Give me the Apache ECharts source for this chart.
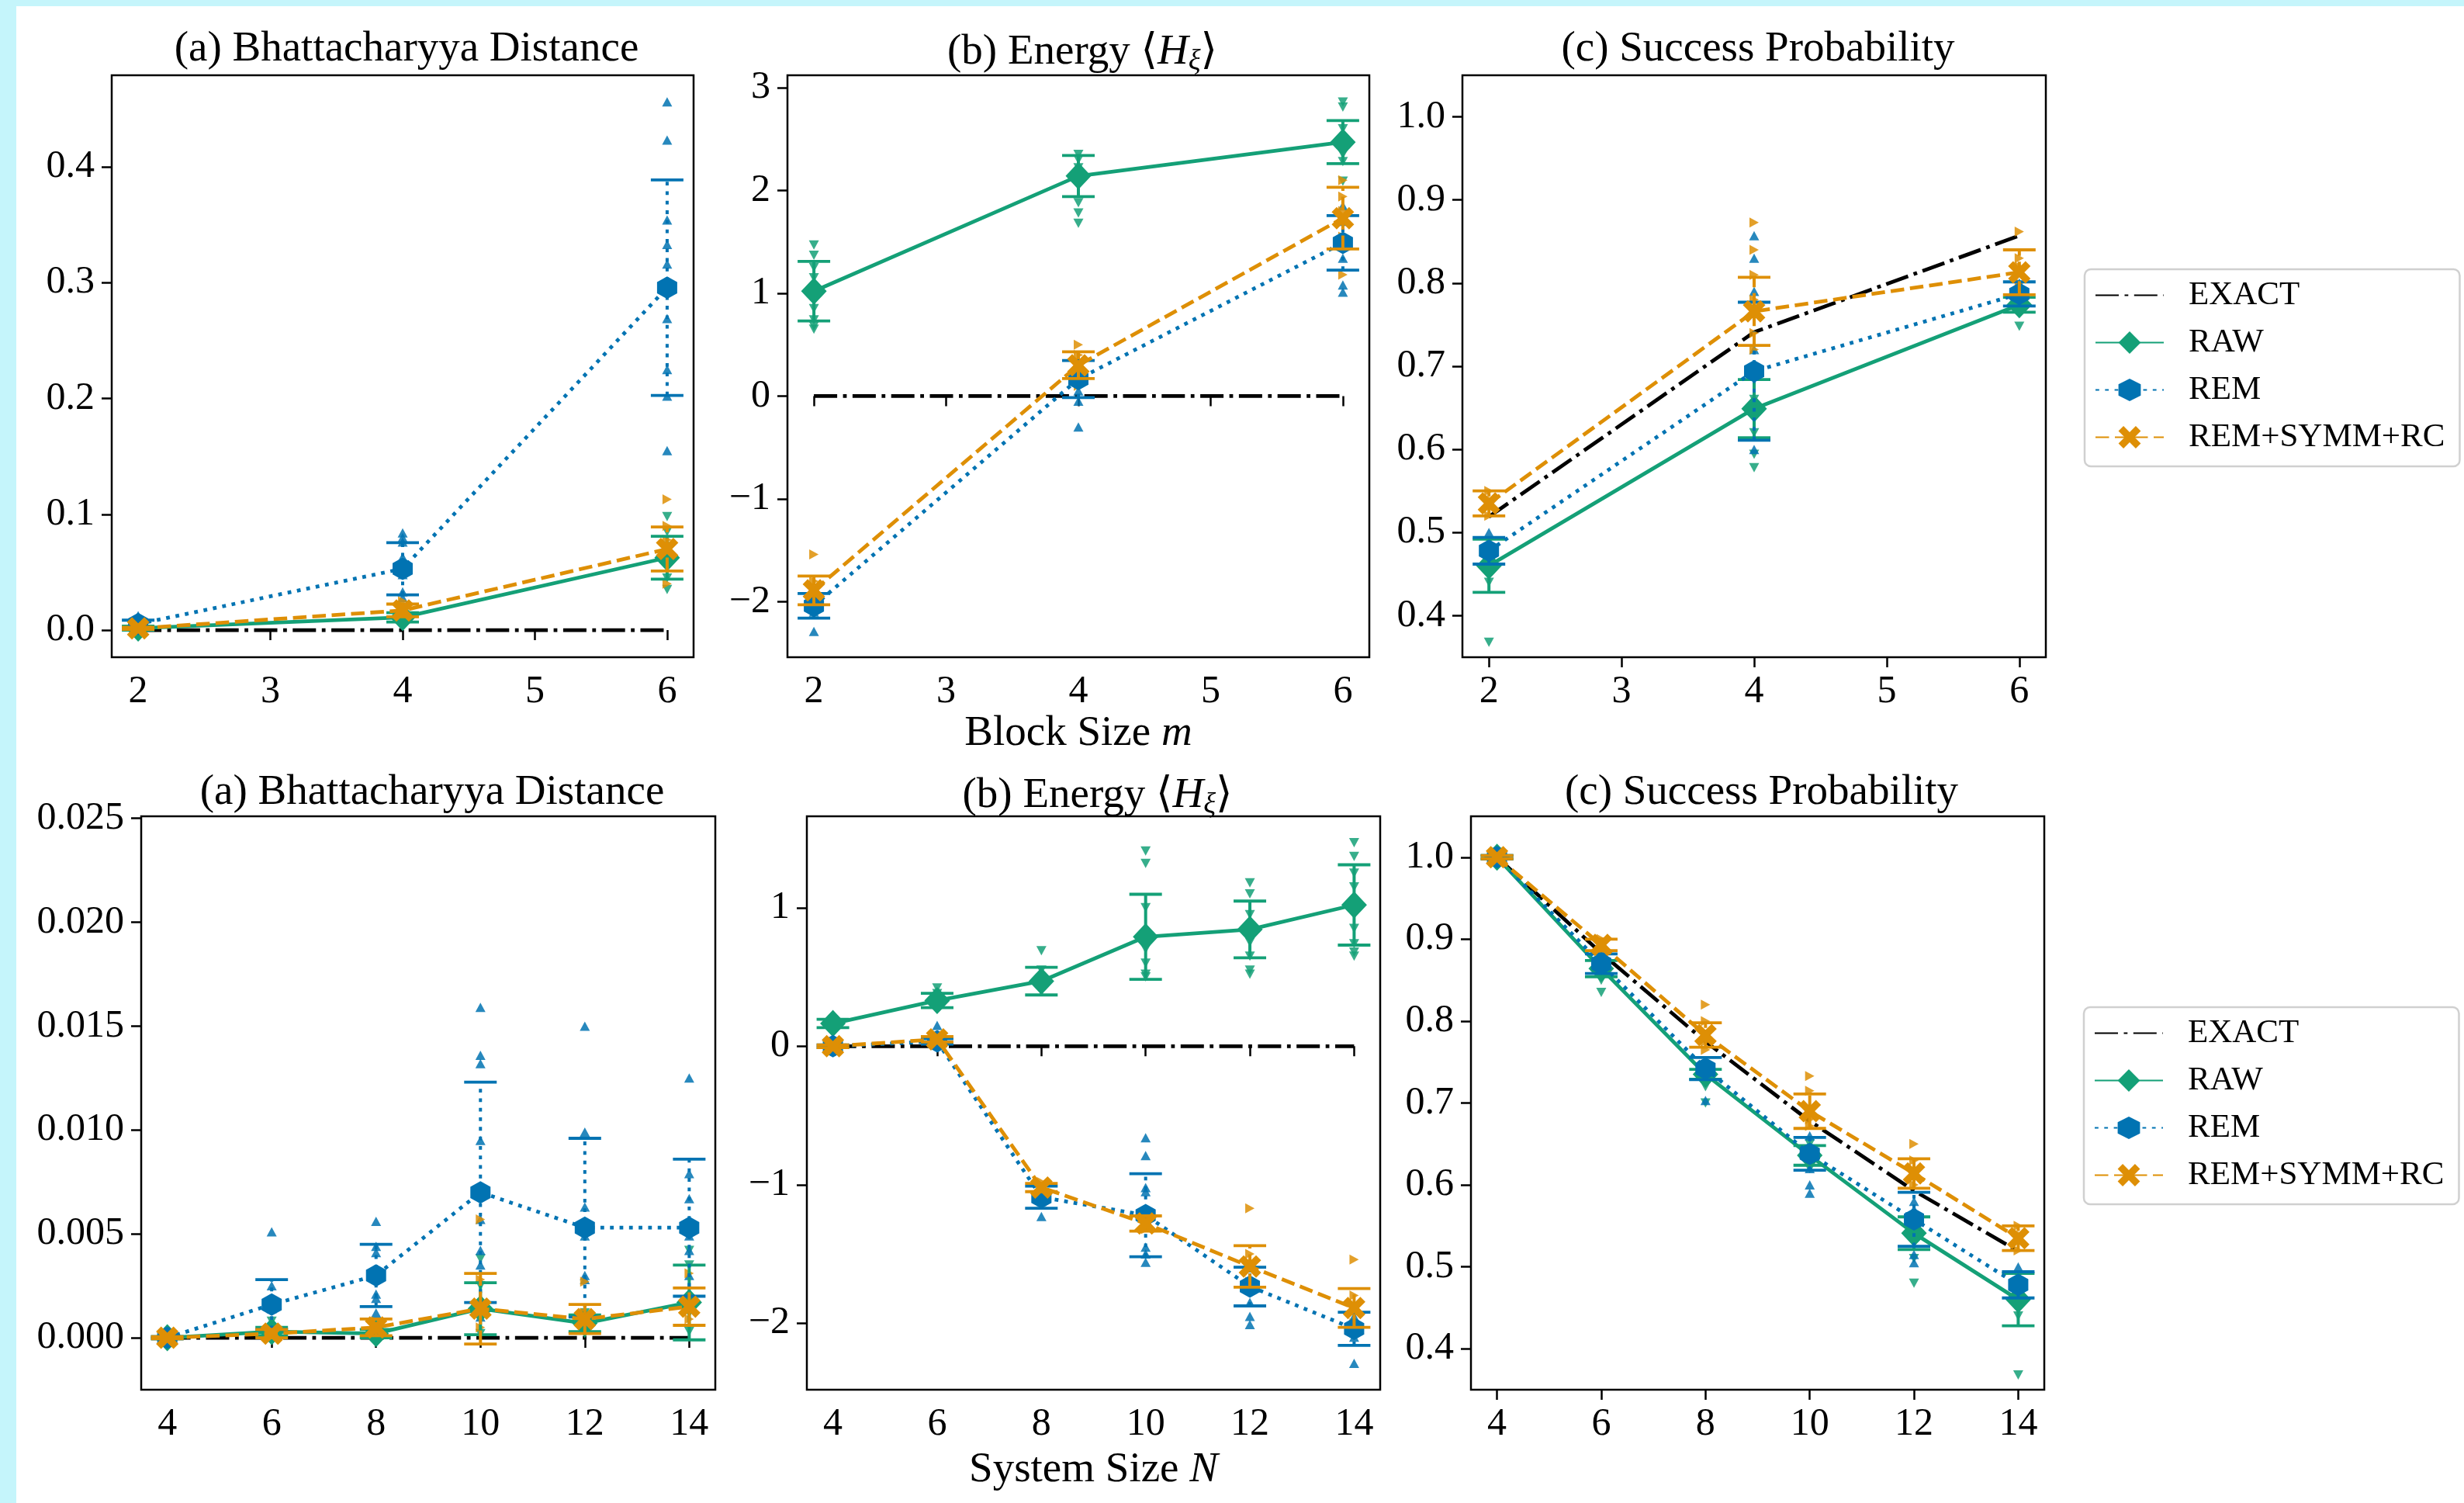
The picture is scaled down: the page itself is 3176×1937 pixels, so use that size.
<!DOCTYPE html>
<html><head><meta charset="utf-8">
<script src="https://cdn.jsdelivr.net/npm/echarts@6/dist/echarts.min.js"></script>
<style>html,body{margin:0;padding:0;background:#fff}#c{width:3176px;height:1937px}</style>
</head><body><div id="c"></div>
<script>
// ---------------- x values & tick labels ----------------
const blockSizes = [2, 4, 6];
const systemSizes = [4, 6, 8, 10, 12, 14];
const blockTicks = [2, 3, 4, 5, 6];
const systemTicks = [4, 6, 8, 10, 12, 14];
const bdTicksM = [0, 0.1, 0.2, 0.3, 0.4];
const enTicksM = [-2, -1, 0, 1, 2, 3];
const spTicksM = [0.4, 0.5, 0.6, 0.7, 0.8, 0.9, 1.0];
const bdTicksN = [0, 0.005, 0.01, 0.015, 0.02, 0.025];
const enTicksN = [-2, -1, 0, 1];
const spTicksN = [0.4, 0.5, 0.6, 0.7, 0.8, 0.9, 1.0];
const legendNames = ['EXACT', 'RAW', 'REM', 'REM+SYMM+RC'];

// ---------------- top row: vs block size m ----------------
// (a) Bhattacharyya distance
const bdExactM = [0, 0, 0];
const bdRawM = [0.0017, 0.011, 0.0625];
const bdRawErrM = [0.0018, 0.004, 0.0185];
const bdRemM = [0.0053, 0.053, 0.2956];
const bdRemErrM = [0.0033, 0.0225, 0.093];
const bdRsrM = [0.0015, 0.017, 0.070];
const bdRsrErrM = [0.0009, 0.0055, 0.019];
const bdRawSampM = [[0.0042, 0.0003], [0.005, 0.009, 0.014, 0.017], [0.098, 0.085, 0.072, 0.055, 0.045, 0.035]];
const bdRemSampM = [[0.0125, 0.0079, 0.0067, 0.0042], [0.084, 0.080, 0.076, 0.063, 0.058, 0.048, 0.033, 0.028], [0.456, 0.423, 0.354, 0.333, 0.316, 0.269, 0.225, 0.202, 0.155]];
const bdRsrSampM = [[0.0031, 0.0009], [0.010, 0.021, 0.025], [0.113, 0.090, 0.078, 0.060, 0.040]];
// (b) Energy
const enExactM = [0, 0, 0];
const enRawM = [1.02, 2.14, 2.47];
const enRawErrM = [0.29, 0.20, 0.21];
const enRemM = [-2.04, 0.166, 1.49];
const enRemErrM = [0.12, 0.18, 0.265];
const enRsrM = [-1.89, 0.30, 1.73];
const enRsrErrM = [0.14, 0.13, 0.30];
const enRawSampM = [[1.47, 1.37, 1.25, 1.15, 0.85, 0.74, 0.68, 0.65], [2.35, 2.30, 2.22, 2.05, 1.88, 1.78, 1.68], [2.86, 2.81, 2.60, 2.35, 2.28, 2.09]];
const enRemSampM = [[-1.95, -2.1, -2.29], [0.35, 0.25, 0.05, -0.05, -0.30], [1.85, 1.70, 1.34, 1.08, 1.01]];
const enRsrSampM = [[-1.54, -1.8, -2.0], [0.50, 0.40, 0.20, 0.10], [2.10, 1.94, 1.80, 1.55, 1.18]];
// (c) Success probability
const spExactM = [0.519, 0.741, 0.857];
const spRawM = [0.460, 0.649, 0.774];
const spRawErrM = [0.032, 0.035, 0.009];
const spRemM = [0.478, 0.694, 0.787];
const spRemErrM = [0.016, 0.083, 0.0145];
const spRsrM = [0.535, 0.766, 0.813];
const spRsrErrM = [0.015, 0.041, 0.027];
const spRawSampM = [[0.368, 0.44, 0.47, 0.49], [0.578, 0.594, 0.62, 0.66, 0.69], [0.748, 0.77, 0.78]];
const spRemSampM = [[0.46, 0.48, 0.50], [0.857, 0.83, 0.79, 0.72, 0.66, 0.60], [0.77, 0.79, 0.80]];
const spRsrSampM = [[0.52, 0.54, 0.55], [0.873, 0.84, 0.81, 0.78, 0.74, 0.72], [0.862, 0.83, 0.82, 0.80]];

// ---------------- bottom row: vs system size N ----------------
// (a) Bhattacharyya distance
const bdExactN = [0, 0, 0, 0, 0, 0];
const bdRawN = [0, 0.0003, 0.0002, 0.0014, 0.0007, 0.0017];
const bdRawErrN = [0.00005, 0.0002, 0.0002, 0.00125, 0.0004, 0.0018];
const bdRemN = [0, 0.0016, 0.0030, 0.0070, 0.0053, 0.0053];
const bdRemErrN = [0.00005, 0.0012, 0.0015, 0.0053, 0.0043, 0.0033];
const bdRsrN = [0, 0.0002, 0.0005, 0.0014, 0.0009, 0.0015];
const bdRsrErrN = [0.00005, 0.0002, 0.0004, 0.0017, 0.0007, 0.0009];
const bdRawSampN = [[0.0001], [0.0008, 0.0002], [0.0002, 0.0006], [0.0038, 0.0025, 0.0010, 0.0002], [0.0005, 0.0012, 0.0002], [0.0042, 0.0035, 0.0012, 0.0003]];
const bdRemSampN = [[0.0001], [0.0051, 0.0025, 0.0014, 0.0005], [0.0056, 0.0044, 0.0041, 0.0021, 0.0019, 0.0012], [0.0159, 0.0136, 0.0132, 0.0095, 0.0057, 0.0042, 0.0035, 0.0010], [0.0150, 0.0099, 0.0063, 0.0049, 0.0030, 0.0028, 0.0010], [0.0125, 0.0079, 0.0067, 0.0049, 0.0042, 0.0030]];
const bdRsrSampN = [[0.0001], [0.0003], [0.0008, 0.0003], [0.0057, 0.0028, 0.0005], [0.0027, 0.0012, 0.0004], [0.0031, 0.0018, 0.0009]];
// (b) Energy
const enExactN = [0, 0, 0, 0, 0, 0];
const enRawN = [0.164, 0.33, 0.47, 0.79, 0.843, 1.02];
const enRawErrN = [0.03, 0.052, 0.10, 0.307, 0.205, 0.29];
const enRemN = [0.0, 0.035, -1.09, -1.22, -1.735, -2.04];
const enRemErrN = [0.01, 0.02, 0.08, 0.30, 0.14, 0.12];
const enRsrN = [0.0, 0.05, -1.02, -1.28, -1.59, -1.89];
const enRsrErrN = [0.01, 0.02, 0.03, 0.055, 0.15, 0.14];
const enRawSampN = [[0.19, 0.15], [0.42, 0.38, 0.30], [0.69, 0.55, 0.40], [1.41, 1.32, 1.0, 0.7, 0.6, 0.52, 0.5], [1.18, 1.1, 0.95, 0.75, 0.65, 0.55, 0.52], [1.47, 1.37, 1.25, 1.15, 0.85, 0.74, 0.68, 0.65]];
const enRemSampN = [[0.01], [0.15, 0.05], [-1.05, -1.12, -1.23], [-0.66, -0.79, -1.02, -1.05, -1.45, -1.5, -1.56], [-1.6, -1.85, -1.95, -2.01], [-1.95, -2.1, -2.29]];
const enRsrSampN = [[0.01], [0.06], [-0.98, -1.04], [-1.20, -1.32], [-1.17, -1.5, -1.7], [-1.54, -1.8, -2.0]];
// (c) Success probability
const spExactN = [1.0, 0.883, 0.775, 0.678, 0.593, 0.519];
const spRawN = [1.0, 0.864, 0.735, 0.636, 0.541, 0.460];
const spRawErrN = [0.002, 0.01, 0.006, 0.012, 0.02, 0.032];
const spRemN = [1.0, 0.870, 0.742, 0.638, 0.558, 0.478];
const spRemErrN = [0.002, 0.012, 0.0135, 0.02, 0.033, 0.016];
const spRsrN = [1.0, 0.893, 0.783, 0.690, 0.614, 0.535];
const spRsrErrN = [0.002, 0.007, 0.015, 0.021, 0.018, 0.015];
const spRawSampN = [[1.006, 0.994], [0.835, 0.85, 0.875], [0.70, 0.72, 0.745], [0.62, 0.65], [0.48, 0.51, 0.55], [0.368, 0.44, 0.47, 0.49]];
const spRemSampN = [[1.005], [0.86, 0.88], [0.703, 0.73, 0.75], [0.59, 0.60, 0.62, 0.66], [0.505, 0.515, 0.57, 0.58], [0.46, 0.48, 0.50]];
const spRsrSampN = [[1.0], [0.9, 0.885], [0.82, 0.80, 0.775, 0.765], [0.733, 0.715, 0.68, 0.672], [0.65, 0.63, 0.60], [0.52, 0.54, 0.55]];

// ---------------- styling ----------------
const FONT = "'Liberation Serif', 'DejaVu Serif', serif";
const C_EXACT = '#000000', C_RAW = '#14a077', C_REM = '#0173b2', C_RSR = '#de8f05';
const LW = 4.8;
const DASH_EXACT = [30, 7.5, 4.8, 7.5];
const DASH_REM = [4.8, 7.5];
const DASH_RSR = [17.5, 7.5];
const SYM_HEX = 'path://M0,-1L0.866,-0.5L0.866,0.5L0,1L-0.866,0.5L-0.866,-0.5Z';
const SYM_X = 'path://M-1,-0.55L-0.55,-1L0,-0.45L0.55,-1L1,-0.55L0.45,0L1,0.55L0.55,1L0,0.45L-0.55,1L-1,0.55L-0.45,0Z';

const grids = [
  {left: 144, top: 97, width: 750, height: 750},
  {left: 1015, top: 97, width: 750, height: 750},
  {left: 1885, top: 97, width: 752, height: 750},
  {left: 182, top: 1052, width: 740, height: 739},
  {left: 1040, top: 1052, width: 739, height: 739},
  {left: 1896, top: 1052, width: 739, height: 739}
];

function fmt(d) { return v => (v < -1e-12 ? '\u2212' : '') + Math.abs(v).toFixed(d); }

const panels = [
  {xs: blockSizes, xmin: 1.8, xmax: 6.2, xt: blockTicks, ymin: -0.0234, ymax: 0.479, yt: bdTicksM, yd: 1,
   ex: bdExactM, raw: bdRawM, rawE: bdRawErrM, rawS: bdRawSampM, rem: bdRemM, remE: bdRemErrM, remS: bdRemSampM, rsr: bdRsrM, rsrE: bdRsrErrM, rsrS: bdRsrSampM,
   title: '(a) Bhattacharyya Distance'},
  {xs: blockSizes, xmin: 1.8, xmax: 6.2, xt: blockTicks, ymin: -2.54, ymax: 3.12, yt: enTicksM, yd: 0,
   ex: enExactM, raw: enRawM, rawE: enRawErrM, rawS: enRawSampM, rem: enRemM, remE: enRemErrM, remS: enRemSampM, rsr: enRsrM, rsrE: enRsrErrM, rsrS: enRsrSampM,
   title: '(b) Energy \u27E8{i|H}{s|\u03BE}\u27E9', xname: 'Block Size {i|m}', nameGap: 70},
  {xs: blockSizes, xmin: 1.8, xmax: 6.2, xt: blockTicks, ymin: 0.35, ymax: 1.05, yt: spTicksM, yd: 1,
   ex: spExactM, raw: spRawM, rawE: spRawErrM, rawS: spRawSampM, rem: spRemM, remE: spRemErrM, remS: spRemSampM, rsr: spRsrM, rsrE: spRsrErrM, rsrS: spRsrSampM,
   title: '(c) Success Probability'},
  {xs: systemSizes, xmin: 3.5, xmax: 14.5, xt: systemTicks, ymin: -0.0025, ymax: 0.0251, yt: bdTicksN, yd: 3,
   ex: bdExactN, raw: bdRawN, rawE: bdRawErrN, rawS: bdRawSampN, rem: bdRemN, remE: bdRemErrN, remS: bdRemSampN, rsr: bdRsrN, rsrE: bdRsrErrN, rsrS: bdRsrSampN,
   title: '(a) Bhattacharyya Distance'},
  {xs: systemSizes, xmin: 3.5, xmax: 14.5, xt: systemTicks, ymin: -2.48, ymax: 1.66, yt: enTicksN, yd: 0,
   ex: enExactN, raw: enRawN, rawE: enRawErrN, rawS: enRawSampN, rem: enRemN, remE: enRemErrN, remS: enRemSampN, rsr: enRsrN, rsrE: enRsrErrN, rsrS: enRsrSampN,
   title: '(b) Energy \u27E8{i|H}{s|\u03BE}\u27E9', xname: 'System Size {i|N}', nameGap: 76},
  {xs: systemSizes, xmin: 3.5, xmax: 14.5, xt: systemTicks, ymin: 0.35, ymax: 1.05, yt: spTicksN, yd: 1,
   ex: spExactN, raw: spRawN, rawE: spRawErrN, rawS: spRawSampN, rem: spRemN, remE: spRemErrN, remS: spRemSampN, rsr: spRsrN, rsrE: spRsrErrN, rsrS: spRsrSampN,
   title: '(c) Success Probability'}
];

const richTitle = {
  i: {fontFamily: FONT, fontSize: 55, fontStyle: 'italic', color: '#000'},
  s: {fontFamily: FONT, fontSize: 37, fontStyle: 'italic', color: '#000', padding: [26, 0, 0, 0]}
};

const xAxes = [], yAxes = [], titles = [], series = [];

function pairs(xs, ys) { return xs.map((x, i) => [x, ys[i]]); }
function flat(xs, samp) { const out = []; xs.forEach((x, i) => samp[i].forEach(v => out.push([x, v]))); return out; }

function errSeries(gi, xs, ys, es, color, dash, z) {
  return {
    type: 'custom', name: 'err' + gi + color, xAxisIndex: gi, yAxisIndex: gi, z: z, silent: true,
    data: xs.map((x, i) => [x, ys[i] - es[i], ys[i] + es[i]]),
    renderItem: function (params, api) {
      const lo = api.coord([api.value(0), api.value(1)]);
      const hi = api.coord([api.value(0), api.value(2)]);
      const cw = 21;
      return {type: 'group', children: [
        {type: 'line', shape: {x1: lo[0], y1: lo[1], x2: hi[0], y2: hi[1]}, style: {stroke: color, lineWidth: 4, lineDash: dash}},
        {type: 'line', shape: {x1: lo[0] - cw, y1: lo[1], x2: lo[0] + cw, y2: lo[1]}, style: {stroke: color, lineWidth: 3.8}},
        {type: 'line', shape: {x1: hi[0] - cw, y1: hi[1], x2: hi[0] + cw, y2: hi[1]}, style: {stroke: color, lineWidth: 3.8}}
      ]};
    }
  };
}
function sampSeries(gi, xs, samp, color, rot, z) {
  return {type: 'scatter', name: 'samp' + gi + color, xAxisIndex: gi, yAxisIndex: gi, z: z, silent: true,
    data: flat(xs, samp), symbol: 'triangle', symbolRotate: rot, symbolSize: [13, 12],
    itemStyle: {color: color, opacity: 0.85}};
}
function lineSeries(gi, name, xs, ys, color, dash, sym, size, z) {
  return {type: 'line', name: name, xAxisIndex: gi, yAxisIndex: gi, z: z, silent: true,
    data: pairs(xs, ys), symbol: sym, symbolSize: size, showSymbol: sym !== 'none',
    lineStyle: {color: color, width: LW, type: dash, cap: 'butt'}, itemStyle: {color: color},
    emphasis: {disabled: true}};
}

panels.forEach((p, gi) => {
  const g = grids[gi];
  xAxes.push({
    type: 'value', gridIndex: gi, min: p.xmin, max: p.xmax,
    axisLine: {show: false}, splitLine: {show: false},
    axisTick: {show: true, customValues: p.xt, length: 13, lineStyle: {color: '#000', width: 2.5}},
    axisLabel: {customValues: p.xt, fontFamily: FONT, fontSize: 50, color: '#000', margin: 20, formatter: fmt(0)},
    name: p.xname || '', nameLocation: 'middle', nameGap: p.nameGap || 0,
    nameTextStyle: {fontFamily: FONT, fontSize: 55, color: '#000',
      rich: {i: {fontFamily: FONT, fontSize: 55, fontStyle: 'italic', color: '#000'}}}
  });
  yAxes.push({
    type: 'value', gridIndex: gi, min: p.ymin, max: p.ymax,
    axisLine: {show: false}, splitLine: {show: false},
    axisTick: {show: true, customValues: p.yt, length: 13, lineStyle: {color: '#000', width: 2.5}},
    axisLabel: {customValues: p.yt, fontFamily: FONT, fontSize: 50, color: '#000', margin: 22, formatter: fmt(p.yd)}
  });
  titles.push({
    text: p.title, left: g.left + g.width / 2, textAlign: 'center', top: gi < 3 ? 31 : 989,
    textStyle: {fontFamily: FONT, fontSize: 55, fontWeight: 'normal', color: '#000', rich: richTitle}
  });
  series.push(lineSeries(gi, 'EXACT', p.xs, p.ex, C_EXACT, DASH_EXACT, 'none', 0, 2));
  series.push(sampSeries(gi, p.xs, p.rawS, C_RAW, 180, 3));
  series.push(sampSeries(gi, p.xs, p.remS, C_REM, 0, 3));
  series.push(sampSeries(gi, p.xs, p.rsrS, C_RSR, -90, 3));
  series.push(errSeries(gi, p.xs, p.raw, p.rawE, C_RAW, null, 4));
  series.push(lineSeries(gi, 'RAW', p.xs, p.raw, C_RAW, 'solid', 'diamond', [33, 35], 5));
  series.push(errSeries(gi, p.xs, p.rem, p.remE, C_REM, DASH_REM, 6));
  series.push(lineSeries(gi, 'REM', p.xs, p.rem, C_REM, DASH_REM, SYM_HEX, [26, 29], 7));
  series.push(errSeries(gi, p.xs, p.rsr, p.rsrE, C_RSR, DASH_RSR, 8));
  series.push(lineSeries(gi, 'REM+SYMM+RC', p.xs, p.rsr, C_RSR, DASH_RSR, SYM_X, [29, 29], 9));
});

function legendAt(left, top) {
  return {
    orient: 'vertical', left: left, top: top, selectedMode: false,
    data: [{name: 'EXACT', itemStyle: {opacity: 0}}, 'RAW', 'REM', 'REM+SYMM+RC'],
    itemWidth: 88, itemHeight: 36, itemGap: 18,
    padding: [12, 19, 16, 13],
    backgroundColor: '#ffffff', borderColor: '#d0d0d0', borderWidth: 2.5, borderRadius: 8,
    textStyle: {fontFamily: FONT, fontSize: 43, color: '#000', padding: [0, 0, 0, 27]}
  };
}

const chart = echarts.init(document.getElementById('c'), null, {renderer: 'canvas'});
chart.setOption({
  animation: false,
  backgroundColor: '#ffffff',
  graphic: [
    {type: 'rect', left: 0, top: 0, shape: {width: 21, height: 1937}, style: {fill: '#c5f5fb'}, z: -10},
    {type: 'rect', left: 0, top: 0, shape: {width: 3176, height: 8}, style: {fill: '#c5f5fb'}, z: -10}
  ],
  title: titles,
  grid: grids.map(g => Object.assign({show: true, borderColor: '#000', borderWidth: 2.5, backgroundColor: 'transparent'}, g)),
  xAxis: xAxes,
  yAxis: yAxes,
  legend: [legendAt(2687, 347), legendAt(2686, 1298)],
  series: series
});
</script></body></html>
